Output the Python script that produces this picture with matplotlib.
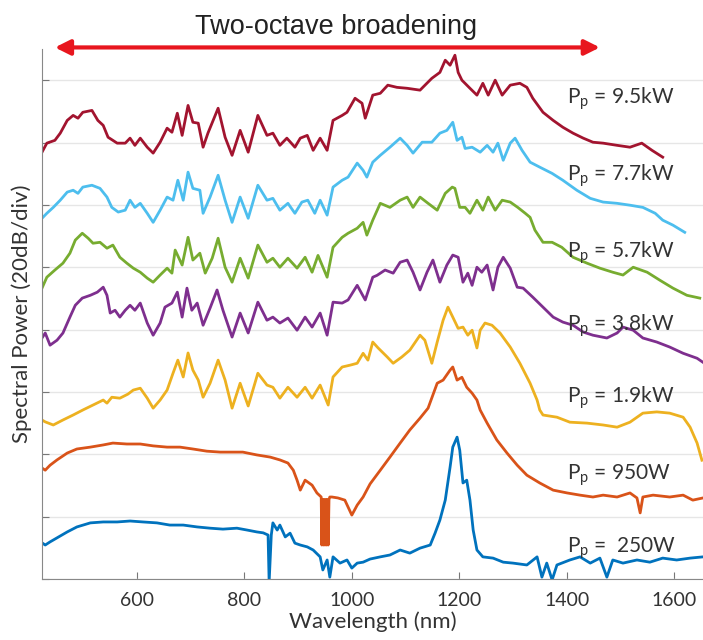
import matplotlib
matplotlib.use('Agg')
import matplotlib.pyplot as plt

# ---------------- data (wavelength nm, power dB) ----------------
wl_95 = [423, 432, 447, 457, 470, 481, 490, 499, 516, 527, 537, 546, 563, 578, 587, 596, 606, 619, 630, 643,
         656, 665, 675, 684, 695, 704, 714, 723, 732, 751, 764, 777, 792, 807, 825, 842, 853, 866, 879, 894,
         904, 917, 928, 941, 954, 965, 982, 991, 1006, 1019, 1025, 1039, 1053, 1067, 1084, 1103, 1127, 1149,
         1164, 1174, 1183, 1192, 1198, 1205, 1220, 1233, 1244, 1254, 1267, 1280, 1295, 1313, 1326, 1337, 1356,
         1375, 1393, 1412, 1431, 1449, 1468, 1494, 1518, 1540, 1559, 1579]
db_95 = [136.9, 139.8, 140.7, 143.0, 147.1, 148.7, 147.8, 149.7, 150.3, 147.1, 145.5, 141.7, 139.8, 139.8, 141.4,
         139.1, 141.4, 138.5, 136.6, 140.1, 144.6, 143.3, 149.4, 142.3, 151.9, 146.5, 146.2, 138.5, 143.0, 151.0,
         141.7, 135.9, 143.9, 136.9, 148.7, 142.3, 143.0, 139.1, 141.4, 138.5, 141.4, 142.3, 137.5, 141.4, 137.5,
         147.1, 148.7, 149.7, 154.2, 152.6, 147.8, 155.2, 155.8, 158.4, 157.7, 157.4, 156.8, 160.6, 162.5, 166.4,
         164.8, 168.0, 162.5, 160.0, 157.4, 155.2, 159.0, 155.2, 160.0, 155.2, 158.4, 159.0, 157.7, 154.2, 149.7,
         147.1, 144.9, 143.0, 141.4, 140.1, 139.8, 139.1, 138.5, 139.8, 137.5, 135.3]

wl_77 = [423, 432, 444, 457, 470, 481, 490, 499, 516, 531, 544, 553, 565, 578, 587, 596, 606, 619, 630, 643,
         656, 667, 676, 686, 695, 704, 717, 723, 736, 751, 764, 777, 792, 807, 825, 842, 853, 866, 881, 894,
         907, 918, 931, 941, 954, 965, 982, 993, 1010, 1021, 1028, 1039, 1053, 1071, 1090, 1103, 1114, 1131,
         1149, 1164, 1177, 1188, 1196, 1205, 1211, 1224, 1239, 1252, 1263, 1272, 1282, 1295, 1304, 1317, 1332,
         1350, 1373, 1393, 1419, 1444, 1468, 1494, 1518, 1542, 1565, 1579, 1598, 1620]
db_77 = [115.7, 117.3, 119.2, 121.5, 124.1, 124.7, 123.7, 125.7, 126.3, 125.3, 122.5, 119.2, 117.7, 118.3, 121.5,
         119.2, 120.5, 117.3, 114.4, 118.3, 122.5, 121.5, 127.9, 121.5, 130.5, 125.3, 124.7, 117.3, 122.5, 129.5,
         121.5, 114.4, 122.5, 115.7, 126.3, 121.5, 122.1, 118.3, 120.5, 117.3, 120.9, 121.5, 117.3, 121.5, 116.7,
         125.7, 127.9, 128.9, 133.4, 131.1, 128.9, 133.7, 135.9, 138.5, 141.4, 139.1, 136.6, 140.1, 140.1, 143.0,
         143.9, 146.5, 140.7, 141.7, 138.1, 138.5, 136.9, 139.1, 136.9, 139.8, 134.3, 139.8, 141.4, 137.5, 133.7,
         132.1, 130.1, 127.9, 124.7, 122.1, 120.9, 120.5, 119.9, 119.2, 117.3, 115.1, 113.5, 111.2]

wl_57 = [423, 432, 447, 462, 475, 485, 498, 509, 518, 531, 544, 555, 568, 581, 593, 606, 619, 630, 643, 656,
         665, 671, 684, 695, 704, 717, 727, 740, 751, 764, 777, 792, 807, 825, 842, 853, 866, 881, 898, 913,
         926, 937, 954, 965, 982, 993, 1010, 1021, 1028, 1039, 1053, 1071, 1090, 1103, 1114, 1127, 1142, 1159,
         1174, 1187, 1192, 1201, 1211, 1220, 1233, 1244, 1254, 1267, 1280, 1295, 1309, 1323, 1332, 1341, 1356,
         1373, 1391, 1412, 1438, 1462, 1486, 1505, 1524, 1550, 1574, 1598, 1624, 1648]
db_57 = [93.3, 96.8, 99.1, 101.3, 104.5, 108.7, 110.9, 109.3, 107.7, 108.0, 106.1, 107.1, 103.2, 101.3, 99.7,
         98.4, 96.5, 95.2, 97.5, 99.7, 98.1, 105.5, 100.7, 109.6, 102.3, 104.5, 98.1, 102.9, 109.3, 100.0,
         95.2, 102.9, 96.5, 107.1, 101.6, 102.9, 100.0, 102.9, 99.7, 103.2, 98.4, 103.8, 96.8, 106.4, 109.6,
         110.9, 112.5, 114.4, 110.3, 115.1, 120.5, 119.2, 121.5, 122.5, 119.2, 122.5, 120.5, 118.3, 123.7, 125.7,
         125.3, 119.2, 119.2, 117.3, 121.5, 118.3, 122.5, 118.3, 121.5, 120.9, 119.2, 117.3, 116.0, 111.9, 108.0,
         108.0, 106.4, 103.2, 101.3, 99.7, 98.4, 97.5, 100.0, 98.4, 95.8, 93.3, 91.0, 90.1]

wl_38 = [423, 429, 438, 451, 462, 475, 485, 498, 513, 526, 537, 544, 550, 559, 568, 578, 587, 596, 606, 619,
         630, 643, 652, 665, 675, 684, 693, 702, 712, 723, 736, 749, 760, 777, 792, 807, 825, 842, 853, 866,
         881, 898, 913, 926, 941, 954, 965, 982, 993, 1010, 1025, 1039, 1047, 1062, 1077, 1090, 1103, 1114,
         1127, 1140, 1151, 1164, 1177, 1188, 1198, 1207, 1216, 1224, 1233, 1242, 1252, 1263, 1272, 1282, 1295,
         1308, 1319, 1337, 1356, 1375, 1393, 1412, 1431, 1449, 1475, 1494, 1505, 1524, 1542, 1568, 1592, 1617,
         1643, 1654]
db_38 = [77.3, 78.9, 75.0, 76.6, 78.9, 84.0, 87.8, 90.1, 91.0, 92.0, 93.6, 91.0, 85.3, 86.2, 84.0, 86.2, 87.8,
         86.2, 88.5, 82.1, 78.2, 82.1, 87.2, 88.5, 92.0, 84.0, 93.3, 86.2, 88.5, 81.4, 86.9, 92.7, 86.2, 77.6,
         85.3, 78.9, 88.8, 83.0, 84.0, 82.1, 83.7, 79.8, 84.0, 80.8, 85.3, 78.2, 88.8, 88.5, 89.5, 94.2, 89.5,
         96.8, 97.4, 99.1, 98.1, 101.6, 102.3, 98.4, 92.7, 98.4, 102.3, 95.2, 100.7, 103.9, 103.2, 95.2, 98.1,
         94.2, 100.0, 98.4, 100.7, 92.7, 100.0, 103.2, 99.7, 93.6, 93.3, 90.4, 87.2, 84.0, 82.4, 81.4, 79.2,
         78.2, 77.3, 78.9, 80.8, 79.8, 77.3, 76.0, 74.4, 72.4, 70.8, 69.5]

wl_19 = [423, 429, 444, 462, 481, 499, 518, 537, 544, 553, 568, 583, 593, 606, 619, 630, 643, 656, 667, 676,
         686, 695, 704, 714, 723, 736, 751, 764, 777, 792, 807, 825, 842, 853, 866, 881, 898, 913, 926, 941,
         956, 965, 982, 997, 1010, 1021, 1030, 1039, 1049, 1066, 1077, 1093, 1108, 1127, 1136, 1149, 1159, 1170,
         1179, 1188, 1198, 1207, 1216, 1224, 1233, 1239, 1248, 1261, 1276, 1295, 1313, 1332, 1345, 1350, 1356,
         1382, 1406, 1438, 1468, 1494, 1518, 1542, 1568, 1592, 1617, 1630, 1643, 1652]
db_19 = [51.0, 50.4, 49.4, 51.0, 52.6, 54.2, 55.8, 57.4, 56.4, 58.3, 58.0, 59.3, 60.6, 61.2, 58.0, 54.8, 57.4,
         60.6, 66.0, 70.2, 64.8, 72.5, 67.0, 63.8, 58.3, 62.8, 70.2, 63.8, 54.8, 62.8, 55.5, 66.0, 62.2, 61.5,
         58.0, 61.5, 58.3, 61.5, 58.0, 62.2, 55.8, 64.8, 68.0, 68.6, 69.2, 72.4, 70.2, 76.0, 74.1, 71.2, 69.2,
         71.2, 73.4, 78.2, 76.6, 69.2, 76.0, 83.0, 87.2, 84.0, 80.4, 80.8, 78.2, 79.8, 74.1, 79.8, 82.1, 81.4,
         78.9, 74.4, 69.2, 62.8, 57.4, 54.2, 52.6, 51.9, 50.3, 50.0, 49.4, 48.7, 50.3, 53.2, 53.6, 53.2, 51.9,
         48.7, 43.6, 38.1]

wl_950 = [423, 429, 438, 451, 470, 488, 513, 537, 555, 581, 606, 630, 656, 680, 704, 730, 755, 779, 797, 823,
          848, 866, 881, 891, 898, 904, 913, 926, 935, 943, 944, 945.5, 947, 948.5, 950, 951.5, 953, 954.5,
          956, 957.5, 959, 963, 974, 987, 1000,
          1010, 1021, 1034, 1053, 1071, 1090, 1108, 1127, 1142, 1159, 1170, 1183, 1188, 1196, 1205, 1214, 1224,
          1233, 1239, 1252, 1270, 1289, 1308, 1326, 1350, 1375, 1401, 1425, 1449, 1468, 1494, 1518, 1531, 1537,
          1542, 1561, 1592, 1617, 1635, 1654]
db_950 = [35.6, 34.9, 36.5, 38.2, 40.4, 41.7, 42.3, 43.0, 43.6, 43.3, 43.3, 42.7, 42.3, 42.3, 41.7, 41.0, 40.7,
          40.7, 40.7, 39.8, 39.1, 38.2, 37.2, 34.9, 31.7, 28.5, 31.7, 30.1, 27.6, 26.3, 10.9, 25.5, 10.9, 25.5,
          10.9, 25.5, 10.9, 25.5, 10.9, 25.5, 26.3, 26.3, 26.0, 25.3, 20.5,
          23.7, 26.3, 30.5, 34.9, 39.1, 43.6, 47.8, 51.6, 54.8, 62.8, 63.8,
          67.0, 68.0, 63.8, 64.7, 61.5, 59.6, 57.4, 54.2, 50.0, 44.6, 40.4, 36.5, 33.3, 30.8, 28.5, 27.6, 26.9,
          26.3, 26.9, 26.3, 27.6, 26.0, 21.2, 26.3, 26.9, 26.3, 26.9, 25.3, 26.0]

wl_250 = [423, 429, 438, 451, 470, 488, 513, 537, 563, 587, 611, 637, 661, 686, 712, 736, 760, 786, 805, 823,
          835, 844, 846, 850, 853, 861, 866, 876, 885, 894, 904, 917, 928, 941, 946, 954, 959, 965, 978, 991,
          1000, 1010, 1021, 1034, 1053, 1071, 1090, 1108, 1127, 1146, 1155, 1164, 1174, 1183, 1188, 1196, 1201,
          1207, 1214, 1220, 1226, 1233, 1244, 1263, 1282, 1300, 1326, 1345, 1354, 1363, 1373, 1382, 1406, 1425,
          1444, 1462, 1475, 1486, 1505, 1531, 1555, 1579, 1605, 1630, 1654]
db_250 = [11.6, 10.9, 11.9, 13.2, 15.1, 16.7, 18.0, 18.3, 18.3, 18.6, 18.3, 18.0, 17.3, 17.3, 16.7, 16.3, 16.0,
          16.3, 15.7, 15.1, 14.8, 14.1, -1.0, 14.1, 18.0, 15.7, 17.3, 13.5, 14.7, 11.5, 10.9, 10.3, 9.3, 7.1,
          2.9, 6.1, 0.6, 7.1, 5.1, 6.1, 3.5, 5.1, 5.4, 6.4, 7.1, 7.7, 9.3, 8.3, 9.9, 10.9, 14.7, 18.9, 25.3,
          35.9, 42.3, 45.5, 41.3, 30.8, 31.7, 25.3, 15.7, 9.3, 7.1, 6.7, 5.4, 5.1, 4.5, 7.1, 0.6, 5.1, -0.3,
          4.5, 6.1, 7.1, 5.1, 6.7, 0.6, 6.1, 5.1, 6.1, 5.4, 6.7, 6.1, 6.7, 7.1]

series = [
    (wl_95, db_95, '#A2142F', '9.5kW', 152.6),
    (wl_77, db_77, '#4DBEEE', '7.7kW', 127.9),
    (wl_57, db_57, '#77AC30', '5.7kW', 103.2),
    (wl_38, db_38, '#7E2F8E', '3.8kW', 79.8),
    (wl_19, db_19, '#EDB120', '1.9kW', 56.4),
    (wl_950, db_950, '#D95319', '950W', 31.7),
    (wl_250, db_250, '#0072BD', ' 250W', 8.3),
]
label_x = 1400
arrow_span = (447, 1462)

# ---------------- plot ----------------
plt.rcParams['font.family'] = ['Lato', 'DejaVu Sans']
plt.rcParams['mathtext.fontset'] = 'custom'
plt.rcParams['mathtext.rm'] = 'Lato'
plt.rcParams['mathtext.it'] = 'Lato'

fig = plt.figure(figsize=(7.03, 6.40), dpi=100)
ax = fig.add_axes([42/703, 1 - 579/640, 1 - 42/703, (579 - 49)/640])

for wl, db, col, lab, ly in series:
    ax.plot(wl, db, color=col, lw=2.0, solid_joinstyle='round')
    ax.text(label_x, ly, r'P$_{\mathrm{p}}$ = ' + lab, fontsize=15, color='#333333', va='baseline')

ax.set_xlim(423, 1654)
ax.set_ylim(0, 170)
ax.set_xticks([600, 800, 1000, 1200, 1400, 1600])
ax.set_yticks(range(0, 170, 20))
ax.set_yticklabels([])
ax.grid(axis='y', color='#e6e6e6', lw=1)
ax.set_axisbelow(True)
ax.tick_params(direction='in', length=5, colors='#777777', labelcolor='#333333', labelsize=14)
ax.tick_params(axis='x', pad=9)
for s in ['top', 'right']:
    ax.spines[s].set_visible(False)
for s in ['left', 'bottom']:
    ax.spines[s].set_color('#888888')

ax.set_xlabel('Wavelength (nm)', fontsize=16, color='#333333', labelpad=2)
ax.set_ylabel('Spectral Power (20dB/div)', fontsize=16, color='#333333', labelpad=4)

ax.annotate('', xy=(arrow_span[1], 170.5), xytext=(arrow_span[0], 170.5), annotation_clip=False,
            arrowprops=dict(arrowstyle='<|-|>,head_length=0.9,head_width=0.45', color='#E8161E', lw=3,
                            shrinkA=0, shrinkB=0))
fig.text(0.478, 0.958, 'Two-octave broadening', fontsize=19.5, family='Liberation Sans',
         ha='center', va='center', color='#222222')

fig.savefig('out.png', dpi=100)
